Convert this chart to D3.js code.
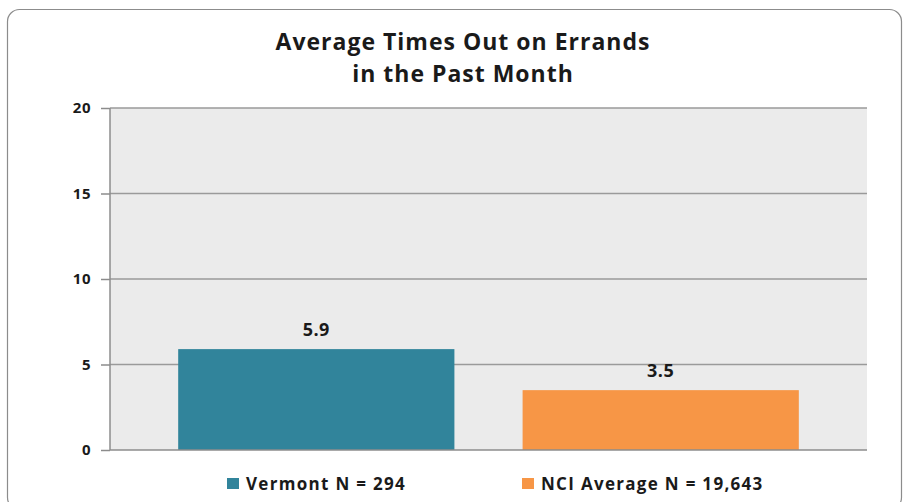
<!DOCTYPE html>
<html>
<head>
<meta charset="utf-8">
<script src="https://cdn.jsdelivr.net/npm/d3@7"></script>
<style>
  body { margin: 0; background: #fff; }
  text { font-family: "Open Sans", Lato, sans-serif; font-weight: bold; fill: #1a1a1a; }
</style>
</head>
<body>
<div id="chart"></div>
<script>
// chart data
const seriesNames = ["Vermont N = 294", "NCI Average N = 19,643"];
const seriesValues = [5.9, 3.5];
const seriesColors = ["#31849b", "#f79646"];
const yTicks = [0, 5, 10, 15, 20];
const titleLines = ["Average Times Out on Errands", "in the Past Month"];

drawBarChart();

function drawBarChart() {
  const W = 903, H = 502;
  const margin = { top: 108, right: 36, bottom: 52, left: 110 },
    width = W - margin.left - margin.right,
    height = H - margin.top - margin.bottom;

  const root = d3.select("#chart").append("svg")
    .attr("width", W)
    .attr("height", H);

  // outer frame
  root.append("rect")
    .attr("x", 7.5).attr("y", 9.5)
    .attr("width", 894).attr("height", 500)
    .attr("rx", 12)
    .attr("fill", "#fff")
    .attr("stroke", "#8c8c8c")
    .attr("stroke-width", 1.2);

  // title
  root.selectAll("text.title")
    .data(titleLines)
    .join("text")
    .attr("class", "title")
    .attr("x", 463)
    .attr("y", (d, i) => 50 + i * 32)
    .attr("text-anchor", "middle")
    .style("font-size", "23px")
    .style("letter-spacing", "1px")
    .text(d => d);

  const svg = root.append("g")
    .attr("transform", `translate(${margin.left},${margin.top})`);

  const xScale = d3.scaleBand().domain(seriesNames).range([0, width]).padding(0.198);
  const yScale = d3.scaleLinear().domain([0, 20]).range([height, 0]);

  // plot background
  svg.append("rect")
    .attr("width", width).attr("height", height)
    .attr("fill", "#ebebeb");

  // gridlines
  svg.append("g")
    .selectAll("line")
    .data(yTicks.filter(d => d > 0))
    .join("line")
    .attr("x1", 0).attr("x2", width)
    .attr("y1", d => yScale(d)).attr("y2", d => yScale(d))
    .attr("stroke", "#9a9a9a")
    .attr("stroke-width", 1.5);

  // bars
  svg.selectAll("rect.bar")
    .data(seriesValues)
    .join("rect")
    .attr("class", "bar")
    .attr("x", (d, i) => xScale(seriesNames[i]))
    .attr("y", d => yScale(d))
    .attr("width", xScale.bandwidth())
    .attr("height", d => height - yScale(d))
    .attr("fill", (d, i) => seriesColors[i]);

  // value labels
  svg.selectAll("text.val")
    .data(seriesValues)
    .join("text")
    .attr("class", "val")
    .attr("x", (d, i) => xScale(seriesNames[i]) + xScale.bandwidth() / 2)
    .attr("y", d => yScale(d) - 13)
    .attr("text-anchor", "middle")
    .style("font-size", "18px")
    .style("letter-spacing", "0.5px")
    .text(d => d.toFixed(1));

  // y axis
  const yAxis = svg.append("g")
    .call(d3.axisLeft(yScale).tickValues(yTicks).tickSize(9).tickPadding(10));
  yAxis.selectAll("line").attr("stroke", "#8c8c8c").attr("stroke-width", 1.5);
  yAxis.select(".domain").attr("stroke", "#8c8c8c").attr("stroke-width", 1.5)
    .attr("d", `M0,0V${height}`);
  yAxis.selectAll("text")
    .style("font-size", "15px")
    .style("letter-spacing", "0.5px")
    .style("font-family", "'Open Sans', Lato, sans-serif")
    .style("font-weight", "bold")
    .attr("fill", "#1a1a1a");

  // x axis baseline
  svg.append("line")
    .attr("x1", 0).attr("x2", width)
    .attr("y1", height).attr("y2", height)
    .attr("stroke", "#8c8c8c")
    .attr("stroke-width", 1.5);

  // legend
  const legendX = [227, 522];
  const legend = root.append("g");
  const items = legend.selectAll("g")
    .data(seriesNames)
    .join("g")
    .attr("transform", (d, i) => `translate(${legendX[i]},478)`);
  items.append("rect")
    .attr("width", 12).attr("height", 11)
    .attr("fill", (d, i) => seriesColors[i]);
  items.append("text")
    .attr("x", 19).attr("y", 12)
    .style("font-size", "17px")
    .style("letter-spacing", "1.3px")
    .text(d => d);
}
</script>
</body>
</html>
